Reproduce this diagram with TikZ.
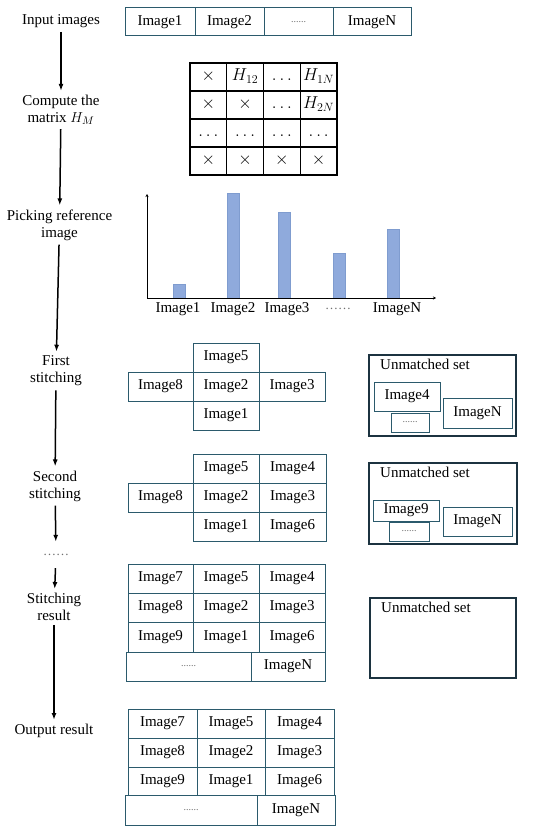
\documentclass[tikz,border=0pt]{standalone}
\usepackage{fontspec}
\setmainfont{Liberation Serif}
\usetikzlibrary{arrows.meta,positioning}
\definecolor{boxcol}{HTML}{2B5A6C}
\definecolor{setcol}{HTML}{1C3340}
\definecolor{barcol}{HTML}{8FAADC}
\definecolor{barline}{HTML}{7F9CCF}
\newcommand{\gdots}{{\color[HTML]{6F6F6F}\fontsize{10}{12}\selectfont ......}}
\newcommand{\gellip}{{\color[HTML]{6F6F6F}\fontsize{13}{15}\selectfont ……}}
\newcommand{\imgcell}[6]{\node[imgbox, minimum width={#4-#2}, minimum height={#5-#3}] (#1) at ({(#2+#4)/2},{(#3+#5)/2}) {#6};}

\begin{document}
\begin{tikzpicture}[x=1pt, y=-1pt,
    font=\fontsize{15}{17}\selectfont,
    stage/.style={align=center, inner sep=2pt},
    flow/.style={-{Latex[length=7pt,width=5pt]}, line width=1.5pt, shorten <=2pt, shorten >=2pt},
    imgbox/.style={draw=boxcol, line width=1pt, fill=white, inner sep=0pt},
    mcell/.style={draw=black, line width=1.1pt, minimum width=36.75, minimum height=28, inner sep=0pt, text height=10pt, text depth=3pt, font=\fontsize{17}{19}\selectfont},
    setbox/.style={draw=setcol, line width=2pt, inner sep=0pt},
    bar/.style={fill=barcol, draw=barline, line width=0.4pt}]
    \useasboundingbox (0,0) rectangle (550,832);

    % steps on the left
    \node[stage] (in) at (61,21) {Input images};
    \node[stage] (cm) at (61,110) {Compute the\\matrix $H_M$};
    \node[stage] (pick) at (59.5,225) {Picking reference\\image};
    \node[stage] (fs) at (56,371) {First\\stitching};
    \node[stage] (ss) at (55,486) {Second\\stitching};
    \node[stage, minimum height=22] (dd) at (56,555) {\gellip};
    \node[stage] (sr) at (54,607) {Stitching\\result};
    \node[stage] (out) at (54,731) {Output result};

    \draw[flow] (in) -- (cm);
    \draw[flow] (cm) -- (pick);
    \draw[flow] (pick) -- (fs);
    \draw[flow] (fs) -- (ss);
    \draw[flow] (ss) -- (dd);
    \draw[flow] (dd) -- (sr);
    \draw[flow] (sr) -- (out);

    % input images
    \imgcell{i1}{125}{8}{195}{36}{Image1}
    \imgcell{i2}{195}{8}{264}{36}{Image2}
    \imgcell{id}{264}{8}{333}{36}{\gdots}
    \imgcell{iN}{333}{8}{411}{36}{ImageN}

    % matrix H_M
    \foreach \t [count=\j] in {$\times$, $H_{12}$, $\ldots$, $H_{1N}$}
        \node[mcell] (ma\j) at ({190+36.75*(\j-0.5)},77) {\t};
    \foreach \t [count=\j] in {$\times$, $\times$, $\ldots$, $H_{2N}$}
        \node[mcell] (mb\j) at ({190+36.75*(\j-0.5)},105) {\t};
    \foreach \t [count=\j] in {$\ldots$, $\ldots$, $\ldots$, $\ldots$}
        \node[mcell] (mc\j) at ({190+36.75*(\j-0.5)},133) {\t};
    \foreach \t [count=\j] in {$\times$, $\times$, $\times$, $\times$}
        \node[mcell] (md\j) at ({190+36.75*(\j-0.5)},161) {\t};

    % bar chart
    \foreach \x/\h in {179/284, 233/193, 284.5/212, 339.5/253, 393/229}
        \draw[bar] (\x-6,298) rectangle (\x+6,\h);
    \coordinate (org) at (147,298);
    \coordinate (ytop) at (147,194);
    \coordinate (xend) at (436,298);
    \draw[-{Stealth[length=3pt,width=3pt]}, line width=0.6pt] (org) -- (ytop);
    \draw[-{Stealth[length=3pt,width=3pt]}, line width=0.6pt] (org) -- (xend);
    \foreach \x/\t [count=\j] in {178/Image1, 233/Image2, 287/Image3, 338/\gellip, 397/ImageN}
        \node (lb\j) at (\x,309) {\t};

    % first stitching
    \imgcell{f5}{193}{343}{259}{372}{Image5}
    \imgcell{f8}{128}{372}{193}{401}{Image8}
    \imgcell{f2}{193}{372}{259}{401}{Image2}
    \imgcell{f3}{259}{372}{325}{401}{Image3}
    \imgcell{f1}{193}{401}{259}{430}{Image1}

    \node[setbox, minimum width=147, minimum height=81] (u1) at (442.5,395.5) {};
    \node[below right=5pt and 12pt of u1.north west, inner sep=0pt] (u1t) {Unmatched set};
    \imgcell{u1d}{391}{413}{429}{432}{\gdots}
    \imgcell{u1a}{374}{382}{440}{411}{Image4}
    \imgcell{u1n}{443}{398}{512}{428}{ImageN}

    % second stitching
    \imgcell{s5}{193}{454}{259}{483}{Image5}
    \imgcell{s4}{259}{454}{326}{483}{Image4}
    \imgcell{s8}{128}{483}{193}{512}{Image8}
    \imgcell{s2}{193}{483}{259}{512}{Image2}
    \imgcell{s3}{259}{483}{326}{512}{Image3}
    \imgcell{s1}{193}{512}{259}{541}{Image1}
    \imgcell{s6}{259}{512}{326}{541}{Image6}

    \node[setbox, minimum width=148, minimum height=81] (u2) at (443,503.5) {};
    \node[below right=5pt and 12pt of u2.north west, inner sep=0pt] (u2t) {Unmatched set};
    \imgcell{u2d}{389}{522}{429}{541}{\gdots}
    \imgcell{u2a}{373}{500}{439}{521}{Image9}
    \imgcell{u2n}{443}{507}{512}{536}{ImageN}

    % stitching result
    \imgcell{r7}{128}{564}{193}{593}{Image7}
    \imgcell{r5}{193}{564}{259}{593}{Image5}
    \imgcell{r4}{259}{564}{325}{593}{Image4}
    \imgcell{r8}{128}{593}{193}{622}{Image8}
    \imgcell{r2}{193}{593}{259}{622}{Image2}
    \imgcell{r3}{259}{593}{325}{622}{Image3}
    \imgcell{r9}{128}{622}{193}{652}{Image9}
    \imgcell{r1}{193}{622}{259}{652}{Image1}
    \imgcell{r6}{259}{622}{325}{652}{Image6}
    \imgcell{rd}{126}{652}{251}{681}{\gdots}
    \imgcell{rN}{251}{652}{325}{681}{ImageN}

    \node[setbox, minimum width=146, minimum height=80] (u3) at (443,638) {};
    \node[below right=5pt and 12pt of u3.north west, inner sep=0pt] (u3t) {Unmatched set};

    % output result
    \imgcell{o7}{128}{709}{197}{738}{Image7}
    \imgcell{o5}{197}{709}{265}{738}{Image5}
    \imgcell{o4}{265}{709}{334}{738}{Image4}
    \imgcell{o8}{128}{738}{197}{767}{Image8}
    \imgcell{o2}{197}{738}{265}{767}{Image2}
    \imgcell{o3}{265}{738}{334}{767}{Image3}
    \imgcell{o9}{128}{767}{197}{795}{Image9}
    \imgcell{o1}{197}{767}{265}{795}{Image1}
    \imgcell{o6}{265}{767}{334}{795}{Image6}
    \imgcell{od}{125}{795}{257}{825}{\gdots}
    \imgcell{oN}{257}{795}{335}{825}{ImageN}
\end{tikzpicture}
\end{document}
